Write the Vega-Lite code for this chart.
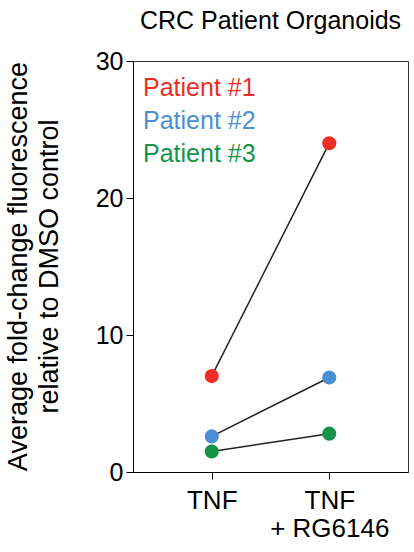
{
  "$schema": "https://vega.github.io/schema/vega-lite/v6.json",
  "width": 275,
  "height": 411,
  "autosize": {"type": "none"},
  "padding": {"left": 133, "top": 61, "right": 6, "bottom": 80},
  "background": "white",
  "config": {
    "font": "Liberation Sans",
    "view": {"stroke": "#333333", "strokeWidth": 1},
    "axis": {"grid": false, "domainColor": "black", "tickColor": "black", "labelColor": "black", "titleColor": "black", "labelFont": "Liberation Sans", "titleFont": "Liberation Sans", "titleFontWeight": "normal"}
  },
  "title": {"text": "CRC Patient Organoids", "fontSize": 25, "fontWeight": "normal", "font": "Liberation Sans", "anchor": "middle", "frame": "group", "offset": 15, "color": "black"},
  "data": {"values": [
    {"patient": "Patient #1", "treatment": "TNF", "value": 7.0},
    {"patient": "Patient #1", "treatment": "TNF + RG6146", "value": 24.0},
    {"patient": "Patient #2", "treatment": "TNF", "value": 2.6},
    {"patient": "Patient #2", "treatment": "TNF + RG6146", "value": 6.9},
    {"patient": "Patient #3", "treatment": "TNF", "value": 1.5},
    {"patient": "Patient #3", "treatment": "TNF + RG6146", "value": 2.8}
  ]},
  "encoding": {
    "x": {"field": "treatment", "type": "nominal", "scale": {"type": "point", "padding": 0.67}, "sort": ["TNF", "TNF + RG6146"],
      "axis": {"title": null, "labelAngle": 0, "labelFontSize": 26, "labelLineHeight": 28, "labelBaseline": "top", "labelPadding": 8, "tickSize": 7, "labelExpr": "datum.value == 'TNF + RG6146' ? ['TNF', '+ RG6146'] : datum.value"}},
    "y": {"field": "value", "type": "quantitative", "scale": {"domain": [0, 30], "nice": false},
      "axis": {"values": [0, 10, 20, 30], "labelFontSize": 25, "tickSize": 7, "labelPadding": 3,
        "title": ["Average fold-change fluorescence", "relative to DMSO control"], "titleFontSize": 27, "titleLineHeight": 31, "titleAngle": -90, "titleAlign": "center", "titleBaseline": "alphabetic", "titleX": -107, "titleY": 205}}
  },
  "layer": [
    {"mark": {"type": "line", "color": "#222222", "strokeWidth": 1.5}, "encoding": {"detail": {"field": "patient"}}},
    {"mark": {"type": "circle", "size": 200, "opacity": 1},
      "encoding": {"color": {"field": "patient", "type": "nominal",
        "scale": {"domain": ["Patient #1", "Patient #2", "Patient #3"], "range": ["#ee2e24", "#4a8fd4", "#159447"]},
        "legend": {"title": null, "orient": "none", "legendX": -15, "legendY": 14, "padding": 0, "symbolSize": 0, "symbolStrokeWidth": 0, "symbolOpacity": 0, "labelOffset": 0, "labelFontSize": 25, "labelFont": "Liberation Sans", "rowPadding": 7,
          "encode": {"labels": {"update": {"fill": {"scale": "color", "field": "value"}}}}}}}}
  ]
}
